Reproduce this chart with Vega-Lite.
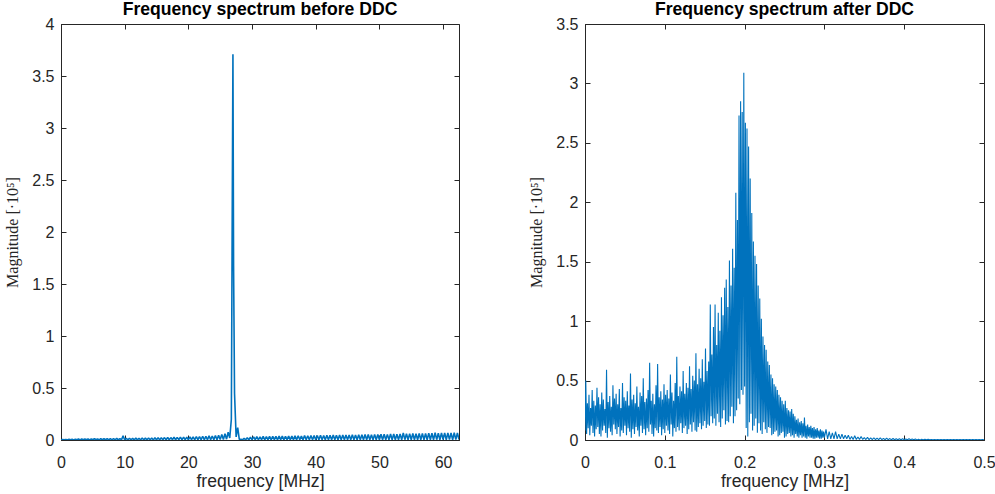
{
"$schema": "https://vega.github.io/schema/vega-lite/v6.json",
"padding": {"left": 4, "top": 0, "right": 0, "bottom": 0},
"background": "white",
"config": {
  "view": {"stroke": "#262626", "strokeWidth": 1},
  "axis": {"grid": false, "domainColor": "#262626", "tickColor": "#262626", "labelColor": "#262626", "titleColor": "#262626", "labelFont": "Liberation Sans", "labelFontSize": 16, "tickSize": -5, "tickWidth": 1, "domainWidth": 1, "labelFlush": false}
},
"datasets": {
"before": [
{"f":0,"m":0.001},{"f":0.25,"m":0.004},{"f":0.5,"m":0.001},{"f":0.75,"m":0.005},{"f":1,"m":0.001},{"f":1.25,"m":0.006},{"f":1.5,"m":0.002},{"f":1.75,"m":0.006},{"f":2,"m":0.001},{"f":2.25,"m":0.008},
{"f":2.5,"m":0.002},{"f":2.75,"m":0.009},{"f":3,"m":0.001},{"f":3.25,"m":0.010},{"f":3.5,"m":0.002},{"f":3.75,"m":0.009},{"f":4,"m":0.002},{"f":4.25,"m":0.011},{"f":4.5,"m":0.001},{"f":4.75,"m":0.010},
{"f":5,"m":0.002},{"f":5.25,"m":0.012},{"f":5.5,"m":0.002},{"f":5.75,"m":0.011},{"f":6,"m":0.001},{"f":6.25,"m":0.013},{"f":6.5,"m":0.002},{"f":6.75,"m":0.012},{"f":7,"m":0.002},{"f":7.25,"m":0.014},
{"f":7.5,"m":0.001},{"f":7.75,"m":0.013},{"f":8,"m":0.002},{"f":8.25,"m":0.014},{"f":8.5,"m":0.002},{"f":8.75,"m":0.015},{"f":9,"m":0.001},{"f":9.25,"m":0.014},{"f":9.5,"m":0.002},{"f":9.75,"m":0.040},
{"f":10,"m":0.002},{"f":10.25,"m":0.016},{"f":10.5,"m":0.002},{"f":10.75,"m":0.017},{"f":11,"m":0.001},{"f":11.25,"m":0.016},{"f":11.5,"m":0.002},{"f":11.75,"m":0.018},{"f":12,"m":0.002},{"f":12.25,"m":0.017},
{"f":12.5,"m":0.001},{"f":12.75,"m":0.019},{"f":13,"m":0.002},{"f":13.25,"m":0.018},{"f":13.5,"m":0.002},{"f":13.75,"m":0.020},{"f":14,"m":0.002},{"f":14.25,"m":0.019},{"f":14.5,"m":0.001},{"f":14.75,"m":0.021},
{"f":15,"m":0.002},{"f":15.25,"m":0.022},{"f":15.5,"m":0.002},{"f":15.75,"m":0.021},{"f":16,"m":0.003},{"f":16.25,"m":0.023},{"f":16.5,"m":0.002},{"f":16.75,"m":0.024},{"f":17,"m":0.002},{"f":17.25,"m":0.023},
{"f":17.5,"m":0.003},{"f":17.75,"m":0.026},{"f":18,"m":0.002},{"f":18.25,"m":0.025},{"f":18.5,"m":0.003},{"f":18.75,"m":0.027},{"f":19,"m":0.002},{"f":19.25,"m":0.028},{"f":19.5,"m":0.003},{"f":19.75,"m":0.027},
{"f":20,"m":0.002},{"f":20.25,"m":0.030},{"f":20.5,"m":0.003},{"f":20.75,"m":0.031},{"f":21,"m":0.002},{"f":21.25,"m":0.033},{"f":21.5,"m":0.003},{"f":21.75,"m":0.032},{"f":22,"m":0.003},{"f":22.25,"m":0.036},
{"f":22.5,"m":0.002},{"f":22.75,"m":0.035},{"f":23,"m":0.003},{"f":23.25,"m":0.040},{"f":23.5,"m":0.003},{"f":23.75,"m":0.038},{"f":24,"m":0.004},{"f":24.25,"m":0.043},{"f":24.5,"m":0.003},{"f":24.75,"m":0.046},
{"f":25,"m":0.004},{"f":25.25,"m":0.052},{"f":25.5,"m":0.005},{"f":25.75,"m":0.060},{"f":26,"m":0.008},{"f":26.25,"m":0.075},{"f":26.5,"m":0.02},{"f":26.75,"m":0.20},{"f":27,"m":3.71},{"f":27.1,"m":1.68},
{"f":27.25,"m":0.45},{"f":27.5,"m":0.03},{"f":27.75,"m":0.12},{"f":28,"m":0.005},{"f":28.25,"m":0.008},{"f":28.5,"m":0.002},{"f":28.75,"m":0.015},{"f":29,"m":0.002},{"f":29.25,"m":0.022},{"f":29.5,"m":0.002},
{"f":29.75,"m":0.026},{"f":30,"m":0.003},{"f":30.25,"m":0.030},{"f":30.5,"m":0.003},{"f":30.75,"m":0.032},{"f":31,"m":0.002},{"f":31.25,"m":0.031},{"f":31.5,"m":0.003},{"f":31.75,"m":0.034},{"f":32,"m":0.002},
{"f":32.25,"m":0.033},{"f":32.5,"m":0.003},{"f":32.75,"m":0.035},{"f":33,"m":0.002},{"f":33.25,"m":0.036},{"f":33.5,"m":0.003},{"f":33.75,"m":0.034},{"f":34,"m":0.002},{"f":34.25,"m":0.037},{"f":34.5,"m":0.003},
{"f":34.75,"m":0.038},{"f":35,"m":0.002},{"f":35.25,"m":0.036},{"f":35.5,"m":0.003},{"f":35.75,"m":0.039},{"f":36,"m":0.002},{"f":36.25,"m":0.038},{"f":36.5,"m":0.003},{"f":36.75,"m":0.040},{"f":37,"m":0.002},
{"f":37.25,"m":0.041},{"f":37.5,"m":0.003},{"f":37.75,"m":0.039},{"f":38,"m":0.002},{"f":38.25,"m":0.042},{"f":38.5,"m":0.003},{"f":38.75,"m":0.041},{"f":39,"m":0.002},{"f":39.25,"m":0.043},{"f":39.5,"m":0.003},
{"f":39.75,"m":0.042},{"f":40,"m":0.003},{"f":40.25,"m":0.044},{"f":40.5,"m":0.002},{"f":40.75,"m":0.045},{"f":41,"m":0.003},{"f":41.25,"m":0.043},{"f":41.5,"m":0.002},{"f":41.75,"m":0.046},{"f":42,"m":0.003},
{"f":42.25,"m":0.045},{"f":42.5,"m":0.002},{"f":42.75,"m":0.047},{"f":43,"m":0.003},{"f":43.25,"m":0.046},{"f":43.5,"m":0.002},{"f":43.75,"m":0.048},{"f":44,"m":0.003},{"f":44.25,"m":0.047},{"f":44.5,"m":0.002},
{"f":44.75,"m":0.049},{"f":45,"m":0.003},{"f":45.25,"m":0.048},{"f":45.5,"m":0.002},{"f":45.75,"m":0.050},{"f":46,"m":0.003},{"f":46.25,"m":0.049},{"f":46.5,"m":0.002},{"f":46.75,"m":0.051},{"f":47,"m":0.003},
{"f":47.25,"m":0.050},{"f":47.5,"m":0.002},{"f":47.75,"m":0.052},{"f":48,"m":0.003},{"f":48.25,"m":0.053},{"f":48.5,"m":0.002},{"f":48.75,"m":0.051},{"f":49,"m":0.003},{"f":49.25,"m":0.054},{"f":49.5,"m":0.002},
{"f":49.75,"m":0.053},{"f":50,"m":0.003},{"f":50.25,"m":0.055},{"f":50.5,"m":0.002},{"f":50.75,"m":0.056},{"f":51,"m":0.003},{"f":51.25,"m":0.054},{"f":51.5,"m":0.002},{"f":51.75,"m":0.057},{"f":52,"m":0.003},
{"f":52.25,"m":0.058},{"f":52.5,"m":0.002},{"f":52.75,"m":0.056},{"f":53,"m":0.003},{"f":53.25,"m":0.059},{"f":53.5,"m":0.002},{"f":53.75,"m":0.068},{"f":54,"m":0.003},{"f":54.25,"m":0.060},{"f":54.5,"m":0.002},
{"f":54.75,"m":0.061},{"f":55,"m":0.003},{"f":55.25,"m":0.062},{"f":55.5,"m":0.002},{"f":55.75,"m":0.060},{"f":56,"m":0.003},{"f":56.25,"m":0.063},{"f":56.5,"m":0.002},{"f":56.75,"m":0.064},{"f":57,"m":0.003},
{"f":57.25,"m":0.062},{"f":57.5,"m":0.002},{"f":57.75,"m":0.066},{"f":58,"m":0.003},{"f":58.25,"m":0.065},{"f":58.5,"m":0.002},{"f":58.75,"m":0.070},{"f":59,"m":0.003},{"f":59.25,"m":0.066},{"f":59.5,"m":0.002},
{"f":59.75,"m":0.068},{"f":60,"m":0.003},{"f":60.25,"m":0.067},{"f":60.5,"m":0.002},{"f":60.75,"m":0.069},{"f":61,"m":0.003},{"f":61.25,"m":0.068},{"f":61.5,"m":0.002},{"f":61.75,"m":0.070},{"f":62,"m":0.003},
{"f":62.25,"m":0.069},{"f":62.5,"m":0.004}
],
"after": [
{"f":0.000,"m":0.08},{"f":0.001,"m":0.50},{"f":0.002,"m":0.05},{"f":0.003,"m":0.31},{"f":0.004,"m":0.10},{"f":0.005,"m":0.38},{"f":0.006,"m":0.04},{"f":0.007,"m":0.27},{"f":0.008,"m":0.12},{"f":0.009,"m":0.42},
{"f":0.010,"m":0.06},{"f":0.011,"m":0.33},{"f":0.012,"m":0.03},{"f":0.013,"m":0.29},{"f":0.014,"m":0.09},{"f":0.015,"m":0.44},{"f":0.016,"m":0.11},{"f":0.017,"m":0.36},{"f":0.018,"m":0.05},{"f":0.019,"m":0.30},
{"f":0.020,"m":0.03},{"f":0.021,"m":0.40},{"f":0.022,"m":0.08},{"f":0.023,"m":0.34},{"f":0.024,"m":0.12},{"f":0.025,"m":0.26},{"f":0.026,"m":0.06},{"f":0.027,"m":0.59},{"f":0.028,"m":0.02},{"f":0.029,"m":0.32},
{"f":0.030,"m":0.10},{"f":0.031,"m":0.37},{"f":0.032,"m":0.07},{"f":0.033,"m":0.28},{"f":0.034,"m":0.04},{"f":0.035,"m":0.46},{"f":0.036,"m":0.13},{"f":0.037,"m":0.35},{"f":0.038,"m":0.09},{"f":0.039,"m":0.39},
{"f":0.040,"m":0.05},{"f":0.041,"m":0.30},{"f":0.042,"m":0.11},{"f":0.043,"m":0.43},{"f":0.044,"m":0.03},{"f":0.045,"m":0.27},{"f":0.046,"m":0.08},{"f":0.047,"m":0.48},{"f":0.048,"m":0.06},{"f":0.049,"m":0.36},
{"f":0.050,"m":0.12},{"f":0.051,"m":0.33},{"f":0.052,"m":0.04},{"f":0.053,"m":0.41},{"f":0.054,"m":0.10},{"f":0.055,"m":0.29},{"f":0.056,"m":0.07},{"f":0.057,"m":0.56},{"f":0.058,"m":0.02},{"f":0.059,"m":0.34},
{"f":0.060,"m":0.09},{"f":0.061,"m":0.38},{"f":0.062,"m":0.05},{"f":0.063,"m":0.31},{"f":0.064,"m":0.11},{"f":0.065,"m":0.45},{"f":0.066,"m":0.08},{"f":0.067,"m":0.28},{"f":0.068,"m":0.03},{"f":0.069,"m":0.40},
{"f":0.070,"m":0.12},{"f":0.071,"m":0.37},{"f":0.072,"m":0.06},{"f":0.073,"m":0.52},{"f":0.074,"m":0.09},{"f":0.075,"m":0.32},{"f":0.076,"m":0.04},{"f":0.077,"m":0.35},{"f":0.078,"m":0.10},{"f":0.079,"m":0.42},
{"f":0.080,"m":0.07},{"f":0.081,"m":0.65},{"f":0.082,"m":0.13},{"f":0.083,"m":0.33},{"f":0.084,"m":0.05},{"f":0.085,"m":0.39},{"f":0.086,"m":0.03},{"f":0.087,"m":0.30},{"f":0.088,"m":0.10},{"f":0.089,"m":0.46},
{"f":0.090,"m":0.08},{"f":0.091,"m":0.64},{"f":0.092,"m":0.06},{"f":0.093,"m":0.36},{"f":0.094,"m":0.11},{"f":0.095,"m":0.41},{"f":0.096,"m":0.04},{"f":0.097,"m":0.34},{"f":0.098,"m":0.09},{"f":0.099,"m":0.47},
{"f":0.100,"m":0.06},{"f":0.101,"m":0.38},{"f":0.102,"m":0.12},{"f":0.103,"m":0.42},{"f":0.104,"m":0.08},{"f":0.105,"m":0.35},{"f":0.106,"m":0.05},{"f":0.107,"m":0.55},{"f":0.108,"m":0.13},{"f":0.109,"m":0.40},
{"f":0.110,"m":0.03},{"f":0.111,"m":0.33},{"f":0.112,"m":0.10},{"f":0.113,"m":0.48},{"f":0.114,"m":0.07},{"f":0.115,"m":0.70},{"f":0.116,"m":0.11},{"f":0.117,"m":0.37},{"f":0.118,"m":0.08},{"f":0.119,"m":0.45},
{"f":0.120,"m":0.14},{"f":0.121,"m":0.41},{"f":0.122,"m":0.06},{"f":0.123,"m":0.58},{"f":0.124,"m":0.10},{"f":0.125,"m":0.39},{"f":0.126,"m":0.12},{"f":0.127,"m":0.48},{"f":0.128,"m":0.05},{"f":0.129,"m":0.44},
{"f":0.130,"m":0.09},{"f":0.131,"m":0.62},{"f":0.132,"m":0.13},{"f":0.133,"m":0.43},{"f":0.134,"m":0.07},{"f":0.135,"m":0.54},{"f":0.136,"m":0.15},{"f":0.137,"m":0.50},{"f":0.138,"m":0.08},{"f":0.139,"m":0.73},
{"f":0.140,"m":0.07},{"f":0.141,"m":0.47},{"f":0.142,"m":0.11},{"f":0.143,"m":0.60},{"f":0.144,"m":0.14},{"f":0.145,"m":0.52},{"f":0.146,"m":0.09},{"f":0.147,"m":0.68},{"f":0.148,"m":0.12},{"f":0.149,"m":0.49},
{"f":0.150,"m":0.16},{"f":0.151,"m":0.77},{"f":0.152,"m":0.10},{"f":0.153,"m":0.58},{"f":0.154,"m":0.13},{"f":0.155,"m":0.66},{"f":0.156,"m":0.12},{"f":0.157,"m":1.14},{"f":0.158,"m":0.20},{"f":0.159,"m":0.72},
{"f":0.160,"m":0.14},{"f":0.161,"m":0.95},{"f":0.162,"m":0.18},{"f":0.163,"m":1.14},{"f":0.164,"m":0.12},{"f":0.165,"m":0.80},{"f":0.166,"m":0.22},{"f":0.167,"m":1.07},{"f":0.168,"m":0.15},{"f":0.169,"m":0.92},
{"f":0.170,"m":0.11},{"f":0.171,"m":1.20},{"f":0.172,"m":0.18},{"f":0.173,"m":1.05},{"f":0.174,"m":0.25},{"f":0.175,"m":1.28},{"f":0.176,"m":0.13},{"f":0.177,"m":1.35},{"f":0.178,"m":0.16},{"f":0.179,"m":1.12},
{"f":0.180,"m":0.15},{"f":0.181,"m":1.51},{"f":0.182,"m":0.20},{"f":0.183,"m":1.30},{"f":0.184,"m":0.28},{"f":0.185,"m":1.61},{"f":0.186,"m":0.14},{"f":0.187,"m":1.45},{"f":0.188,"m":0.20},{"f":0.189,"m":2.08},
{"f":0.190,"m":0.25},{"f":0.191,"m":1.85},{"f":0.192,"m":0.35},{"f":0.193,"m":2.73},{"f":0.194,"m":0.30},{"f":0.195,"m":2.85},{"f":0.196,"m":0.42},{"f":0.197,"m":2.76},{"f":0.198,"m":0.38},{"f":0.199,"m":3.09},
{"f":0.200,"m":0.45},{"f":0.201,"m":2.67},{"f":0.202,"m":0.10},{"f":0.203,"m":2.62},{"f":0.204,"m":0.03},{"f":0.205,"m":2.47},{"f":0.206,"m":0.15},{"f":0.207,"m":2.20},{"f":0.208,"m":0.22},{"f":0.209,"m":1.91},
{"f":0.210,"m":0.08},{"f":0.211,"m":1.67},{"f":0.212,"m":0.12},{"f":0.213,"m":1.55},{"f":0.214,"m":0.18},{"f":0.215,"m":1.48},{"f":0.216,"m":0.06},{"f":0.217,"m":1.30},{"f":0.218,"m":0.14},{"f":0.219,"m":1.19},
{"f":0.220,"m":0.08},{"f":0.221,"m":1.02},{"f":0.222,"m":0.05},{"f":0.223,"m":0.87},{"f":0.224,"m":0.15},{"f":0.225,"m":0.80},{"f":0.226,"m":0.09},{"f":0.227,"m":0.76},{"f":0.228,"m":0.06},{"f":0.229,"m":0.66},
{"f":0.230,"m":0.11},{"f":0.231,"m":0.63},{"f":0.232,"m":0.10},{"f":0.233,"m":0.55},{"f":0.234,"m":0.04},{"f":0.235,"m":0.52},{"f":0.236,"m":0.05},{"f":0.237,"m":0.47},{"f":0.238,"m":0.07},{"f":0.239,"m":0.45},
{"f":0.240,"m":0.08},{"f":0.241,"m":0.42},{"f":0.242,"m":0.03},{"f":0.243,"m":0.38},{"f":0.244,"m":0.04},{"f":0.245,"m":0.36},{"f":0.246,"m":0.06},{"f":0.247,"m":0.33},{"f":0.248,"m":0.07},{"f":0.249,"m":0.30},
{"f":0.250,"m":0.02},{"f":0.251,"m":0.33},{"f":0.252,"m":0.03},{"f":0.253,"m":0.27},{"f":0.254,"m":0.05},{"f":0.255,"m":0.25},{"f":0.256,"m":0.06},{"f":0.257,"m":0.24},{"f":0.258,"m":0.03},{"f":0.259,"m":0.26},
{"f":0.260,"m":0.04},{"f":0.261,"m":0.22},{"f":0.262,"m":0.02},{"f":0.263,"m":0.20},{"f":0.264,"m":0.05},{"f":0.265,"m":0.17},{"f":0.266,"m":0.03},{"f":0.267,"m":0.18},{"f":0.268,"m":0.02},{"f":0.269,"m":0.15},
{"f":0.270,"m":0.04},{"f":0.271,"m":0.16},{"f":0.272,"m":0.02},{"f":0.273,"m":0.14},{"f":0.274,"m":0.03},{"f":0.275,"m":0.19},{"f":0.276,"m":0.02},{"f":0.277,"m":0.12},{"f":0.278,"m":0.01},{"f":0.279,"m":0.13},
{"f":0.280,"m":0.03},{"f":0.281,"m":0.11},{"f":0.282,"m":0.02},{"f":0.283,"m":0.12},{"f":0.284,"m":0.02},{"f":0.285,"m":0.10},{"f":0.286,"m":0.01},{"f":0.287,"m":0.11},{"f":0.288,"m":0.01},{"f":0.289,"m":0.09},
{"f":0.290,"m":0.02},{"f":0.291,"m":0.10},{"f":0.292,"m":0.02},{"f":0.293,"m":0.08},{"f":0.294,"m":0.01},{"f":0.295,"m":0.09},{"f":0.296,"m":0.01},{"f":0.297,"m":0.08},{"f":0.298,"m":0.02},{"f":0.299,"m":0.07},
{"f":0.300,"m":0.02},{"f":0.302,"m":0.09},{"f":0.304,"m":0.01},{"f":0.306,"m":0.07},{"f":0.308,"m":0.01},{"f":0.310,"m":0.06},{"f":0.312,"m":0.01},{"f":0.314,"m":0.07},{"f":0.316,"m":0.01},{"f":0.318,"m":0.05},
{"f":0.320,"m":0.01},{"f":0.322,"m":0.05},{"f":0.324,"m":0.01},{"f":0.326,"m":0.04},{"f":0.328,"m":0.01},{"f":0.330,"m":0.04},{"f":0.332,"m":0.005},{"f":0.334,"m":0.03},{"f":0.336,"m":0.005},{"f":0.338,"m":0.035},
{"f":0.340,"m":0.005},{"f":0.342,"m":0.025},{"f":0.344,"m":0.005},{"f":0.346,"m":0.03},{"f":0.348,"m":0.005},{"f":0.350,"m":0.020},{"f":0.352,"m":0.004},{"f":0.354,"m":0.022},{"f":0.356,"m":0.003},{"f":0.358,"m":0.018},
{"f":0.360,"m":0.004},{"f":0.362,"m":0.019},{"f":0.364,"m":0.003},{"f":0.366,"m":0.016},{"f":0.368,"m":0.003},{"f":0.370,"m":0.017},{"f":0.372,"m":0.003},{"f":0.374,"m":0.014},{"f":0.376,"m":0.002},{"f":0.378,"m":0.015},
{"f":0.380,"m":0.003},{"f":0.382,"m":0.012},{"f":0.384,"m":0.002},{"f":0.386,"m":0.013},{"f":0.388,"m":0.002},{"f":0.390,"m":0.011},{"f":0.392,"m":0.002},{"f":0.394,"m":0.010},{"f":0.396,"m":0.002},{"f":0.398,"m":0.011},
{"f":0.400,"m":0.002},{"f":0.402,"m":0.009},{"f":0.404,"m":0.002},{"f":0.406,"m":0.010},{"f":0.408,"m":0.002},{"f":0.410,"m":0.008},{"f":0.412,"m":0.002},{"f":0.414,"m":0.008},{"f":0.416,"m":0.001},{"f":0.418,"m":0.007},
{"f":0.420,"m":0.001},{"f":0.422,"m":0.007},{"f":0.424,"m":0.001},{"f":0.426,"m":0.006},{"f":0.428,"m":0.001},{"f":0.430,"m":0.006},{"f":0.432,"m":0.001},{"f":0.434,"m":0.005},{"f":0.436,"m":0.001},{"f":0.438,"m":0.005},
{"f":0.440,"m":0.001},{"f":0.442,"m":0.004},{"f":0.444,"m":0.001},{"f":0.446,"m":0.004},{"f":0.448,"m":0.001},{"f":0.450,"m":0.004},{"f":0.452,"m":0.001},{"f":0.454,"m":0.004},{"f":0.456,"m":0.001},{"f":0.458,"m":0.003},
{"f":0.460,"m":0.001},{"f":0.462,"m":0.003},{"f":0.464,"m":0.001},{"f":0.466,"m":0.003},{"f":0.468,"m":0.001},{"f":0.470,"m":0.003},{"f":0.472,"m":0.001},{"f":0.474,"m":0.003},{"f":0.476,"m":0.001},{"f":0.478,"m":0.003},
{"f":0.480,"m":0.001},{"f":0.482,"m":0.003},{"f":0.484,"m":0.001},{"f":0.486,"m":0.003},{"f":0.488,"m":0.001},{"f":0.490,"m":0.003},{"f":0.492,"m":0.001},{"f":0.494,"m":0.003},{"f":0.496,"m":0.001},{"f":0.498,"m":0.003},
{"f":0.500,"m":0.002}
]
},
"spacing": 68,
"hconcat": [
{
  "width": 398, "height": 416,
  "title": {"text": "Frequency spectrum before DDC", "font": "Liberation Sans", "fontSize": 17.6, "fontWeight": "bold", "color": "#000000", "offset": -3},
  "data": {"name": "before"},
  "layer": [
    {"mark": {"type": "line", "color": "#0072BD", "strokeWidth": 1.6, "strokeJoin": "bevel", "clip": true},
     "encoding": {
       "x": {"field": "f", "type": "quantitative", "scale": {"domain": [0, 62.5], "nice": false},
             "axis": {"values": [0,10,20,30,40,50,60], "format": "~r", "title": "frequency [MHz]", "titleFont": "Liberation Sans", "titleFontSize": 17.6, "titleFontWeight": "normal", "labelPadding": 19, "titlePadding": 2}},
       "y": {"field": "m", "type": "quantitative", "scale": {"domain": [0, 4], "nice": false},
             "axis": {"values": [0,0.5,1,1.5,2,2.5,3,3.5,4], "format": "~r", "title": "Magnitude [·10⁵]", "titleFont": "Liberation Serif", "titleFontSize": 16, "titleFontWeight": "normal", "labelPadding": 12, "titlePadding": 11}}
     }},
    {"mark": {"type": "line", "opacity": 0},
     "encoding": {
       "x": {"field": "f", "type": "quantitative", "scale": {"domain": [0, 62.5], "nice": false},
             "axis": {"orient": "top", "values": [0,10,20,30,40,50,60], "labels": false, "title": null, "domain": false}},
       "y": {"field": "m", "type": "quantitative", "scale": {"domain": [0, 4], "nice": false},
             "axis": {"orient": "right", "values": [0,0.5,1,1.5,2,2.5,3,3.5,4], "labels": false, "title": null, "domain": false}}
     }}
  ],
  "resolve": {"axis": {"x": "independent", "y": "independent"}}
},
{
  "width": 399, "height": 416,
  "title": {"text": "Frequency spectrum after DDC", "font": "Liberation Sans", "fontSize": 17.6, "fontWeight": "bold", "color": "#000000", "offset": -3},
  "data": {"name": "after"},
  "layer": [
    {"mark": {"type": "line", "color": "#0072BD", "strokeWidth": 1.1, "strokeJoin": "bevel", "clip": true},
     "encoding": {
       "x": {"field": "f", "type": "quantitative", "scale": {"domain": [0, 0.5], "nice": false},
             "axis": {"values": [0,0.1,0.2,0.3,0.4,0.5], "format": "~r", "title": "frequency [MHz]", "titleFont": "Liberation Sans", "titleFontSize": 17.6, "titleFontWeight": "normal", "labelPadding": 19, "titlePadding": 2}},
       "y": {"field": "m", "type": "quantitative", "scale": {"domain": [0, 3.5], "nice": false},
             "axis": {"values": [0,0.5,1,1.5,2,2.5,3,3.5], "format": "~r", "title": "Magnitude [·10⁵]", "titleFont": "Liberation Serif", "titleFontSize": 16, "titleFontWeight": "normal", "labelPadding": 12, "titlePadding": 11}}
     }},
    {"mark": {"type": "line", "opacity": 0},
     "encoding": {
       "x": {"field": "f", "type": "quantitative", "scale": {"domain": [0, 0.5], "nice": false},
             "axis": {"orient": "top", "values": [0,0.1,0.2,0.3,0.4,0.5], "labels": false, "title": null, "domain": false}},
       "y": {"field": "m", "type": "quantitative", "scale": {"domain": [0, 3.5], "nice": false},
             "axis": {"orient": "right", "values": [0,0.5,1,1.5,2,2.5,3,3.5], "labels": false, "title": null, "domain": false}}
     }}
  ],
  "resolve": {"axis": {"x": "independent", "y": "independent"}}
}
]
}
